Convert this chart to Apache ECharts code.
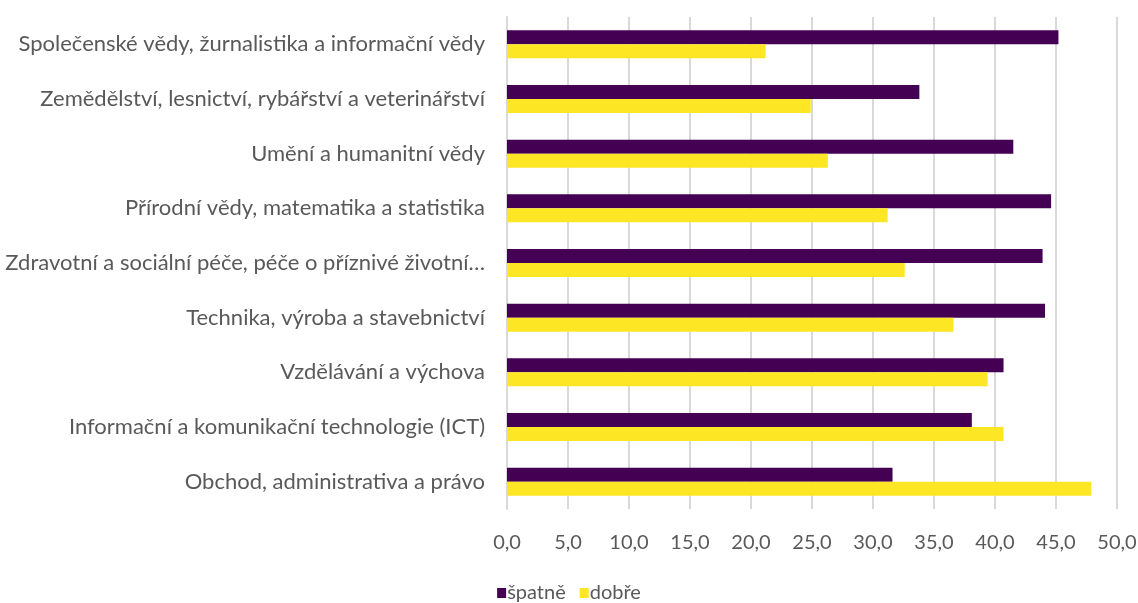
<!DOCTYPE html>
<html>
<head>
<meta charset="utf-8">
<script src="https://cdn.jsdelivr.net/npm/echarts@6/dist/echarts.min.js"></script>
<style>
  html, body { margin: 0; padding: 0; background: #fff; }
  #chart_content { width: 1138px; height: 603px; }
</style>
</head>
<body>
<div id="chart_content"></div>
<script>
// obory vzdělání (shora dolů)
const categories = [
    'Společenské vědy, žurnalistika a informační vědy',
    'Zemědělství, lesnictví, rybářství a veterinářství',
    'Umění a humanitní vědy',
    'Přírodní vědy, matematika a statistika',
    'Zdravotní a sociální péče, péče o příznivé životní…',
    'Technika, výroba a stavebnictví',
    'Vzdělávání a výchova',
    'Informační a komunikační technologie (ICT)',
    'Obchod, administrativa a právo'
];
const spatne = [45.2, 33.8, 41.5, 44.6, 43.9, 44.1, 40.7, 38.1, 31.6];
const dobre = [21.2, 24.9, 26.3, 31.2, 32.6, 36.6, 39.4, 40.7, 47.9];
const seriesNames = ['špatně', 'dobře'];

const textColor = '#595959';
const font = 'Lato';

let chart = echarts.init(document.getElementById('chart_content'));
let option = {
    animation: false,
    textStyle: { fontFamily: font },
    grid: {
        left: 507,
        right: 21,
        top: 17,
        bottom: 94,
        outerBoundsMode: 'none'
    },
    legend: {
        bottom: -5,
        left: 'center',
        itemWidth: 9,
        itemHeight: 10,
        itemGap: 14,
        icon: 'rect',
        textStyle: { color: textColor, fontSize: 20, fontFamily: font, padding: [0, 0, 0, -4] },
        data: seriesNames
    },
    xAxis: {
        type: 'value',
        min: 0,
        max: 50,
        interval: 5,
        axisLine: { show: false },
        axisTick: { show: false },
        splitLine: { lineStyle: { color: '#d9d9d9', width: 2 } },
        axisLabel: {
            color: textColor,
            fontSize: 20,
            margin: 24,
            formatter: v => v.toFixed(1).replace('.', ',')
        }
    },
    yAxis: {
        type: 'category',
        inverse: true,
        data: categories,
        axisLine: { show: true, lineStyle: { color: '#d9d9d9', width: 2 } },
        axisTick: { show: false },
        axisLabel: {
            color: textColor,
            fontSize: 22,
            margin: 22
        }
    },
    series: [
        {
            name: seriesNames[0],
            type: 'bar',
            data: spatne,
            barWidth: 14,
            barGap: '0%',
            itemStyle: { color: '#440154' }
        },
        {
            name: seriesNames[1],
            type: 'bar',
            data: dobre,
            barWidth: 14,
            barGap: '0%',
            itemStyle: { color: '#fde725' }
        }
    ]
};
chart.setOption(option);
</script>
</body>
</html>
